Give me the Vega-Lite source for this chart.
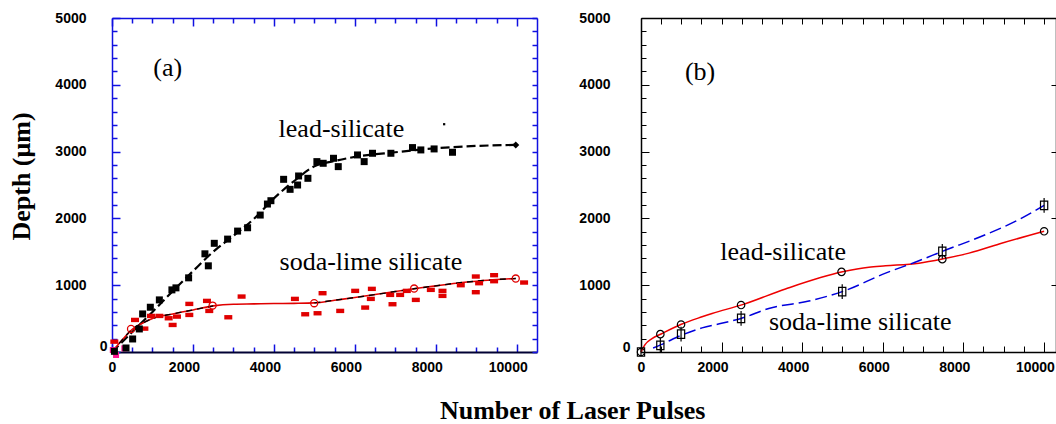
{
  "$schema": "https://vega.github.io/schema/vega-lite/v6.json",
  "padding": {"left": 8, "top": 11, "right": 1, "bottom": 0},
  "background": "white",
  "config": {
    "view": {"stroke": null},
    "font": "Liberation Sans",
    "concat": {"spacing": 40},
    "axis": {
      "grid": false,
      "format": "d",
      "labelFont": "Liberation Sans",
      "labelFontSize": 14,
      "labelFontWeight": "bold",
      "labelColor": "#000000",
      "labelOverlap": false,
      "labelFlush": false,
      "titleFont": "Liberation Serif",
      "titleFontSize": 26,
      "titleFontWeight": "bold",
      "titleColor": "#000000"
    }
  },
  "title": {"text": "Number of Laser Pulses", "orient": "bottom", "font": "Liberation Serif", "fontSize": 26, "fontWeight": "bold", "color": "#000000", "offset": 20, "anchor": "middle", "dx": 40},
  "datasets": {
    "leadPtsA": [
      {"x": 346, "y": 60}, {"x": 510, "y": 195}, {"x": 675, "y": 345}, {"x": 757, "y": 570}, {"x": 947, "y": 670},
      {"x": 1170, "y": 780}, {"x": 1480, "y": 930}, {"x": 1580, "y": 960}, {"x": 1893, "y": 1110}, {"x": 2296, "y": 1470},
      {"x": 2380, "y": 1290}, {"x": 2527, "y": 1627}, {"x": 2856, "y": 1690}, {"x": 3103, "y": 1810}, {"x": 3350, "y": 1860},
      {"x": 3662, "y": 2050}, {"x": 3840, "y": 2215}, {"x": 3926, "y": 2265}, {"x": 4240, "y": 2585}, {"x": 4400, "y": 2435},
      {"x": 4585, "y": 2500}, {"x": 4610, "y": 2635}, {"x": 4840, "y": 2600}, {"x": 5062, "y": 2850}, {"x": 5218, "y": 2825},
      {"x": 5473, "y": 2900}, {"x": 5590, "y": 2775}, {"x": 6066, "y": 2950}, {"x": 6230, "y": 2850}, {"x": 6436, "y": 2975},
      {"x": 6890, "y": 2975}, {"x": 7424, "y": 3060}, {"x": 7630, "y": 3025}, {"x": 7958, "y": 3040}, {"x": 8412, "y": 2990},
      {"x": 60, "y": 10}
    ],
    "leadDotA": [{"x": 8206, "y": 3410}],
    "sodaPtsA": [
      {"x": 58, "y": 155}, {"x": 568, "y": 480}, {"x": 800, "y": 350}, {"x": 963, "y": 540}, {"x": 1170, "y": 540},
      {"x": 1400, "y": 505}, {"x": 1498, "y": 405}, {"x": 1605, "y": 530}, {"x": 1910, "y": 720}, {"x": 1910, "y": 555},
      {"x": 2346, "y": 765}, {"x": 2403, "y": 615}, {"x": 2873, "y": 520}, {"x": 3202, "y": 830}, {"x": 4519, "y": 795},
      {"x": 4773, "y": 565}, {"x": 5078, "y": 580}, {"x": 5202, "y": 880}, {"x": 5638, "y": 615}, {"x": 6008, "y": 915},
      {"x": 6255, "y": 665}, {"x": 6395, "y": 795}, {"x": 6420, "y": 945}, {"x": 6873, "y": 855}, {"x": 6930, "y": 715},
      {"x": 7119, "y": 855}, {"x": 7284, "y": 915}, {"x": 7506, "y": 780}, {"x": 7877, "y": 930}, {"x": 8165, "y": 915},
      {"x": 8165, "y": 840}, {"x": 8617, "y": 1000}, {"x": 8988, "y": 1130}, {"x": 8988, "y": 895}, {"x": 9070, "y": 1030},
      {"x": 9440, "y": 1150}, {"x": 9440, "y": 1060}, {"x": 10181, "y": 1040}
    ],
    "pinkPtsA": [{"x": 100, "y": -45}, {"x": 305, "y": 55}, {"x": 20, "y": 30}],
    "sodaCircA": [{"x": 470, "y": 345}, {"x": 2486, "y": 695}, {"x": 4995, "y": 730}, {"x": 7465, "y": 950}, {"x": 9975, "y": 1100}],
    "leadDiamA": [{"x": 9975, "y": 3100}],
    "leadLineA": [
      {"x": 0, "y": 0}, {"x": 500, "y": 300}, {"x": 1000, "y": 600}, {"x": 1500, "y": 910}, {"x": 2000, "y": 1210},
      {"x": 2500, "y": 1500}, {"x": 3000, "y": 1740}, {"x": 3500, "y": 1990}, {"x": 4000, "y": 2300}, {"x": 4500, "y": 2560},
      {"x": 5000, "y": 2780}, {"x": 5500, "y": 2860}, {"x": 6000, "y": 2920}, {"x": 7000, "y": 2990}, {"x": 8000, "y": 3050},
      {"x": 9000, "y": 3085}, {"x": 9975, "y": 3100}
    ],
    "sodaLineA": [
      {"x": 0, "y": 0, "seg": "a"}, {"x": 250, "y": 180, "seg": "a"}, {"x": 500, "y": 340, "seg": "a"}, {"x": 750, "y": 430, "seg": "a"},
      {"x": 1000, "y": 500, "seg": "a"}, {"x": 1500, "y": 570, "seg": "a"}, {"x": 2000, "y": 630, "seg": "a"}, {"x": 2500, "y": 690, "seg": "a"},
      {"x": 3000, "y": 715, "seg": "n"}, {"x": 3500, "y": 720, "seg": "n"}, {"x": 4000, "y": 725, "seg": "n"}, {"x": 4500, "y": 728, "seg": "n"},
      {"x": 5000, "y": 735, "seg": "b"}, {"x": 5500, "y": 775, "seg": "b"}, {"x": 6000, "y": 815, "seg": "b"}, {"x": 6500, "y": 860, "seg": "b"},
      {"x": 7000, "y": 905, "seg": "b"}, {"x": 7500, "y": 950, "seg": "b"}, {"x": 8000, "y": 990, "seg": "b"}, {"x": 8500, "y": 1030, "seg": "b"},
      {"x": 9000, "y": 1060, "seg": "b"}, {"x": 9500, "y": 1085, "seg": "b"}, {"x": 9975, "y": 1100, "seg": "b"}
    ],
    "textA": [
      {"x": 1375, "y": 4132, "t": "(a)"},
      {"x": 5667, "y": 3223, "t": "lead-silicate"},
      {"x": 6395, "y": 1228, "t": "soda-lime silicate"}
    ],
    "leadPtsB": [
      {"x": 0, "y": 0}, {"x": 480, "y": 267}, {"x": 994, "y": 411}, {"x": 2484, "y": 703},
      {"x": 4977, "y": 1200}, {"x": 7478, "y": 1390}, {"x": 10005, "y": 1807}
    ],
    "sodaPtsB": [
      {"x": 0, "y": 0, "lo": -60, "hi": 60}, {"x": 480, "y": 100, "lo": -10, "hi": 210}, {"x": 994, "y": 267, "lo": 157, "hi": 377},
      {"x": 2484, "y": 502, "lo": 392, "hi": 612}, {"x": 4994, "y": 904, "lo": 794, "hi": 1014}, {"x": 7478, "y": 1506, "lo": 1396, "hi": 1616},
      {"x": 10005, "y": 2194, "lo": 2084, "hi": 2304}
    ],
    "leadLineB": [
      {"x": 0, "y": 0}, {"x": 100, "y": 110}, {"x": 273, "y": 200}, {"x": 500, "y": 270}, {"x": 1000, "y": 415},
      {"x": 1515, "y": 527}, {"x": 1764, "y": 577}, {"x": 2500, "y": 705}, {"x": 3586, "y": 944}, {"x": 5000, "y": 1200},
      {"x": 5656, "y": 1270}, {"x": 6070, "y": 1290}, {"x": 6898, "y": 1330}, {"x": 7500, "y": 1395}, {"x": 8141, "y": 1480},
      {"x": 8969, "y": 1631}, {"x": 10005, "y": 1807}
    ],
    "sodaLineB": [
      {"x": 300, "y": 60}, {"x": 500, "y": 110}, {"x": 1000, "y": 250}, {"x": 1515, "y": 361}, {"x": 2000, "y": 430},
      {"x": 2484, "y": 502}, {"x": 3172, "y": 652}, {"x": 4166, "y": 763}, {"x": 4994, "y": 904}, {"x": 6070, "y": 1180},
      {"x": 6898, "y": 1366}, {"x": 7478, "y": 1506}, {"x": 8554, "y": 1757}, {"x": 9383, "y": 1983}, {"x": 10005, "y": 2194}
    ],
    "textB": [
      {"x": 1466, "y": 4066, "t": "(b)"},
      {"x": 3528, "y": 1381, "t": "lead-silicate"},
      {"x": 5441, "y": 327, "t": "soda-lime silicate"}
    ]
  },
  "hconcat": [
    {
      "width": 425,
      "height": 334,
      "resolve": {"axis": {"x": "independent", "y": "independent"}},
      "layer": [
        {
          "data": {"name": "leadLineA"},
          "mark": {"type": "line", "color": "#000000", "strokeWidth": 2.2, "strokeDash": [9, 4], "interpolate": "monotone"},
          "encoding": {
            "x": {"field": "x", "type": "quantitative", "scale": {"domain": [0, 10500], "nice": false, "zero": false},
              "axis": {"orient": "bottom", "title": null,
                "values": [0, 500, 1000, 1500, 2000, 2500, 3000, 3500, 4000, 4500, 5000, 5500, 6000, 6500, 7000, 7500, 8000, 8500, 9000, 9500, 10000],
                "tickSize": {"condition": {"test": "datum.value % 2000 === 0", "value": -8}, "value": -5},
                "tickColor": "#1010e0", "tickWidth": 1.5, "domainColor": "#000033", "domainWidth": 2,
                "labelExpr": "datum.value % 2000 === 0 ? datum.label : ''", "labelPadding": 16,
                "labelOffset": {"condition": {"test": "datum.value === 0", "value": 0}, "value": -9}}},
            "y": {"field": "y", "type": "quantitative", "scale": {"domain": [0, 5000], "nice": false},
              "axis": {"orient": "left", "title": "Depth (μm)", "titlePadding": 20, "titleY": 158,
                "values": [0, 200, 400, 600, 800, 1000, 1200, 1400, 1600, 1800, 2000, 2200, 2400, 2600, 2800, 3000, 3200, 3400, 3600, 3800, 4000, 4200, 4400, 4600, 4800, 5000],
                "tickSize": {"condition": {"test": "datum.value % 1000 === 0", "value": -8}, "value": -5},
                "tickColor": "#1010e0", "tickWidth": 1.5, "domainColor": "#1010e0", "domainWidth": 1.5,
                "labelExpr": "datum.value % 1000 === 0 ? datum.label : ''",
                "labelPadding": {"condition": {"test": "datum.value === 0", "value": 13}, "value": 34},
                "labelOffset": {"condition": {"test": "datum.value === 0", "value": -6}, "value": 0}}}
          }
        },
        {
          "data": {"name": "sodaLineA"},
          "mark": {"type": "line", "color": "#e00000", "strokeWidth": 1.6, "interpolate": "monotone"},
          "encoding": {
            "x": {"field": "x", "type": "quantitative", "scale": {"domain": [0, 10500], "nice": false, "zero": false},
              "axis": {"orient": "top", "title": null, "labels": false,
                "values": [0, 500, 1000, 1500, 2000, 2500, 3000, 3500, 4000, 4500, 5000, 5500, 6000, 6500, 7000, 7500, 8000, 8500, 9000, 9500, 10000],
                "tickSize": {"condition": {"test": "datum.value % 2000 === 0", "value": -8}, "value": -5},
                "tickColor": "#1010e0", "tickWidth": 1.5, "domainColor": "#1010e0", "domainWidth": 1.5}},
            "y": {"field": "y", "type": "quantitative", "scale": {"domain": [0, 5000], "nice": false},
              "axis": {"orient": "right", "title": null, "labels": false,
                "values": [0, 200, 400, 600, 800, 1000, 1200, 1400, 1600, 1800, 2000, 2200, 2400, 2600, 2800, 3000, 3200, 3400, 3600, 3800, 4000, 4200, 4400, 4600, 4800, 5000],
                "tickSize": -5, "tickColor": "#1010e0", "tickWidth": 1.5, "domainColor": "#1010e0", "domainWidth": 1.5}}
          }
        },
        {
          "data": {"name": "sodaLineA"},
          "transform": [{"filter": "datum.seg !== 'n'"}],
          "mark": {"type": "line", "color": "#000000", "strokeWidth": 1.4, "strokeDash": [6, 5], "interpolate": "monotone"},
          "encoding": {
            "x": {"field": "x", "type": "quantitative", "scale": {"domain": [0, 10500], "nice": false, "zero": false}, "axis": null},
            "y": {"field": "y", "type": "quantitative", "scale": {"domain": [0, 5000], "nice": false}, "axis": null},
            "detail": {"field": "seg"}
          }
        },
        {
          "data": {"name": "sodaPtsA"},
          "mark": {"type": "point", "shape": "M-1,-0.55H1V0.55H-1Z", "filled": true, "color": "#e00000", "size": 64, "opacity": 1},
          "encoding": {
            "x": {"field": "x", "type": "quantitative", "scale": {"domain": [0, 10500], "nice": false, "zero": false}, "axis": null},
            "y": {"field": "y", "type": "quantitative", "scale": {"domain": [0, 5000], "nice": false}, "axis": null}
          }
        },
        {
          "data": {"name": "pinkPtsA"},
          "mark": {"type": "point", "shape": "square", "filled": true, "color": "#ff1493", "size": 36, "opacity": 1},
          "encoding": {
            "x": {"field": "x", "type": "quantitative", "scale": {"domain": [0, 10500], "nice": false, "zero": false}, "axis": null},
            "y": {"field": "y", "type": "quantitative", "scale": {"domain": [0, 5000], "nice": false}, "axis": null}
          }
        },
        {
          "data": {"name": "leadPtsA"},
          "mark": {"type": "point", "shape": "square", "filled": true, "color": "#000000", "size": 49, "opacity": 1},
          "encoding": {
            "x": {"field": "x", "type": "quantitative", "scale": {"domain": [0, 10500], "nice": false, "zero": false}, "axis": null},
            "y": {"field": "y", "type": "quantitative", "scale": {"domain": [0, 5000], "nice": false}, "axis": null}
          }
        },
        {
          "data": {"name": "leadDotA"},
          "mark": {"type": "point", "shape": "square", "filled": true, "color": "#000000", "size": 5, "opacity": 1},
          "encoding": {
            "x": {"field": "x", "type": "quantitative", "scale": {"domain": [0, 10500], "nice": false, "zero": false}, "axis": null},
            "y": {"field": "y", "type": "quantitative", "scale": {"domain": [0, 5000], "nice": false}, "axis": null}
          }
        },
        {
          "data": {"name": "sodaCircA"},
          "mark": {"type": "point", "shape": "circle", "filled": false, "color": "#e00000", "strokeWidth": 1.3, "size": 50, "opacity": 1},
          "encoding": {
            "x": {"field": "x", "type": "quantitative", "scale": {"domain": [0, 10500], "nice": false, "zero": false}, "axis": null},
            "y": {"field": "y", "type": "quantitative", "scale": {"domain": [0, 5000], "nice": false}, "axis": null}
          }
        },
        {
          "data": {"name": "leadDiamA"},
          "mark": {"type": "point", "shape": "diamond", "filled": true, "color": "#000000", "size": 50, "opacity": 1},
          "encoding": {
            "x": {"field": "x", "type": "quantitative", "scale": {"domain": [0, 10500], "nice": false, "zero": false}, "axis": null},
            "y": {"field": "y", "type": "quantitative", "scale": {"domain": [0, 5000], "nice": false}, "axis": null}
          }
        },
        {
          "data": {"name": "textA"},
          "mark": {"type": "text", "font": "Liberation Serif", "fontSize": 26, "align": "center", "baseline": "alphabetic", "color": "#000000"},
          "encoding": {
            "x": {"field": "x", "type": "quantitative", "scale": {"domain": [0, 10500], "nice": false, "zero": false}, "axis": null},
            "y": {"field": "y", "type": "quantitative", "scale": {"domain": [0, 5000], "nice": false}, "axis": null},
            "text": {"field": "t"}
          }
        }
      ]
    },
    {
      "width": 415,
      "height": 334,
      "resolve": {"axis": {"x": "independent", "y": "independent"}},
      "layer": [
        {
          "data": {"name": "leadLineB"},
          "mark": {"type": "line", "color": "#ee0000", "strokeWidth": 1.5, "interpolate": "monotone"},
          "encoding": {
            "x": {"field": "x", "type": "quantitative", "scale": {"domain": [0, 10300], "nice": false, "zero": false},
              "axis": {"orient": "bottom", "title": null,
                "values": [0, 500, 1000, 1500, 2000, 2500, 3000, 3500, 4000, 4500, 5000, 5500, 6000, 6500, 7000, 7500, 8000, 8500, 9000, 9500, 10000],
                "tickSize": {"condition": {"test": "datum.value % 2000 === 0", "value": -10}, "value": -6},
                "tickColor": "#000000", "tickWidth": 1, "domainColor": "#000000", "domainWidth": 1.5,
                "labelExpr": "datum.value % 2000 === 0 ? datum.label : ''", "labelPadding": 18,
                "labelOffset": {"condition": {"test": "datum.value === 0", "value": 0}, "value": -9}}},
            "y": {"field": "y", "type": "quantitative", "scale": {"domain": [0, 5000], "nice": false},
              "axis": {"orient": "left", "title": null,
                "values": [0, 200, 400, 600, 800, 1000, 1200, 1400, 1600, 1800, 2000, 2200, 2400, 2600, 2800, 3000, 3200, 3400, 3600, 3800, 4000, 4200, 4400, 4600, 4800, 5000],
                "tickSize": {"condition": {"test": "datum.value % 1000 === 0", "value": -8}, "value": -5},
                "tickColor": "#000000", "tickWidth": 1, "domainColor": "#000000", "domainWidth": 1.5,
                "labelExpr": "datum.value % 1000 === 0 ? datum.label : ''",
                "labelPadding": {"condition": {"test": "datum.value === 0", "value": 19}, "value": 39},
                "labelOffset": {"condition": {"test": "datum.value === 0", "value": -5}, "value": 0}}}
          }
        },
        {
          "data": {"name": "sodaLineB"},
          "mark": {"type": "line", "color": "#0000dd", "strokeWidth": 1.5, "strokeDash": [12, 5], "interpolate": "monotone"},
          "encoding": {
            "x": {"field": "x", "type": "quantitative", "scale": {"domain": [0, 10300], "nice": false, "zero": false},
              "axis": {"orient": "top", "title": null, "labels": false,
                "values": [0, 500, 1000, 1500, 2000, 2500, 3000, 3500, 4000, 4500, 5000, 5500, 6000, 6500, 7000, 7500, 8000, 8500, 9000, 9500, 10000],
                "tickSize": -6, "tickColor": "#000000", "tickWidth": 1, "domainColor": "#000000", "domainWidth": 1.5}},
            "y": {"field": "y", "type": "quantitative", "scale": {"domain": [0, 5000], "nice": false},
              "axis": {"orient": "right", "title": null, "labels": false,
                "values": [0, 1000, 2000, 3000, 4000, 5000],
                "tickSize": -5, "tickColor": "#000000", "tickWidth": 1, "domainColor": "#000000", "domainWidth": 1.5}}
          }
        },
        {
          "data": {"name": "sodaPtsB"},
          "mark": {"type": "rule", "color": "#000000", "strokeWidth": 1.2},
          "encoding": {
            "x": {"field": "x", "type": "quantitative", "scale": {"domain": [0, 10300], "nice": false, "zero": false}, "axis": null},
            "y": {"field": "lo", "type": "quantitative", "scale": {"domain": [0, 5000], "nice": false}, "axis": null},
            "y2": {"field": "hi"}
          }
        },
        {
          "data": {"name": "leadPtsB"},
          "mark": {"type": "point", "shape": "circle", "filled": false, "color": "#000000", "strokeWidth": 1.2, "size": 55, "opacity": 1},
          "encoding": {
            "x": {"field": "x", "type": "quantitative", "scale": {"domain": [0, 10300], "nice": false, "zero": false}, "axis": null},
            "y": {"field": "y", "type": "quantitative", "scale": {"domain": [0, 5000], "nice": false}, "axis": null}
          }
        },
        {
          "data": {"name": "sodaPtsB"},
          "mark": {"type": "point", "shape": "M-0.85,-1H0.85V1H-0.85Z", "filled": false, "color": "#000000", "strokeWidth": 1.2, "size": 72, "opacity": 1},
          "encoding": {
            "x": {"field": "x", "type": "quantitative", "scale": {"domain": [0, 10300], "nice": false, "zero": false}, "axis": null},
            "y": {"field": "y", "type": "quantitative", "scale": {"domain": [0, 5000], "nice": false}, "axis": null}
          }
        },
        {
          "data": {"name": "textB"},
          "mark": {"type": "text", "font": "Liberation Serif", "fontSize": 26, "align": "center", "baseline": "alphabetic", "color": "#000000"},
          "encoding": {
            "x": {"field": "x", "type": "quantitative", "scale": {"domain": [0, 10300], "nice": false, "zero": false}, "axis": null},
            "y": {"field": "y", "type": "quantitative", "scale": {"domain": [0, 5000], "nice": false}, "axis": null},
            "text": {"field": "t"}
          }
        }
      ]
    }
  ]
}
